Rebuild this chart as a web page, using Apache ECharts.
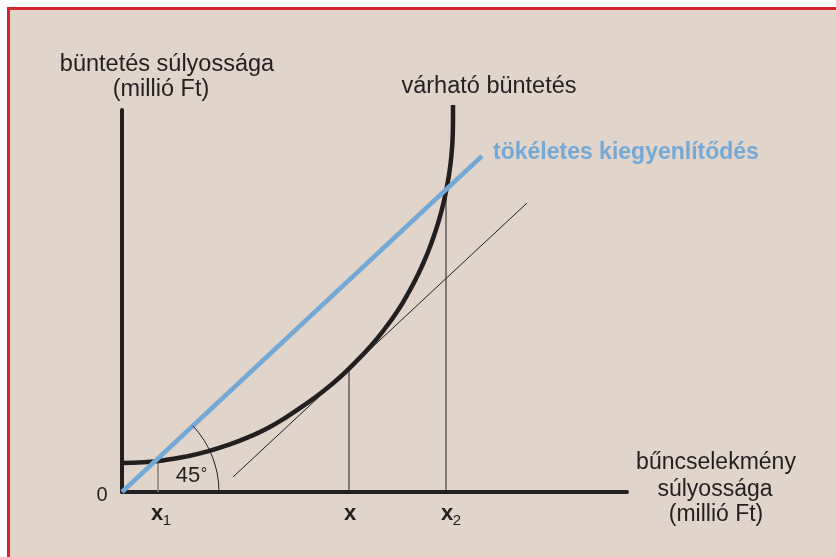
<!DOCTYPE html>
<html>
<head>
<meta charset="utf-8">
<title>várható büntetés</title>
<script src="https://cdn.jsdelivr.net/npm/echarts@6/dist/echarts.min.js"></script>
<style>
  html, body { margin: 0; padding: 0; background: #ffffff; }
  #frame {
    position: absolute; left: 7px; top: 7px; width: 829px; height: 550px;
    box-sizing: border-box;
    border-left: 3px solid #d7262f; border-top: 3px solid #d7262f;
    background: #e0d4cb;
  }
  #main { position: absolute; left: 0; top: 0; width: 836px; height: 557px; }
</style>
</head>
<body>
<div id="frame"></div>
<div id="main"></div>
<script>
// görbe: várható büntetés (x = bűncselekmény súlyossága, y = büntetés)
var curveX = [0, 21.6, 43.2, 64.6, 85.7, 106.4, 126.7, 146.4, 165.5, 183.9, 201.5, 218.2, 234,
  248.8, 262.6, 275.2, 286.6, 296.9, 305.8, 313.4, 319.7, 324.6, 328.2, 330.3, 331, 331];
var curveY = [29, 29.7, 31.9, 35.6, 40.6, 47.1, 55, 64.2, 75.7, 88, 101, 115, 130.4,
  146, 163, 180.5, 199.5, 219.2, 239.5, 260.4, 281.7, 303.5, 325.5, 347.7, 370, 387];

// tökéletes kiegyenlítődés (45 fokos egyenes)
var blueX = [0, 360];
var blueY = [0, 336];

// érintő az x pontban
var tangentX = [111, 405];
var tangentY = [15, 289];

// függőleges vonalak: x1, x, x2
var markX = [36, 227, 324];
var markTop = [31, 124, 302];

var axisMax = [505, 382];
var angleRadius = 97;

var ink = "#231f20";
var blue = "#74a9d6";
var font = "'Liberation Sans', Arial, Helvetica, sans-serif";

function zip(xs, ys) {
  var out = [];
  for (var i = 0; i < xs.length; i++) {
    out.push([xs[i], ys[i]]);
  }
  return out;
}

var chart = echarts.init(document.getElementById("main"));

var series = [
  {
    name: "várható büntetés",
    type: "line",
    data: zip(curveX, curveY),
    smooth: 0.5,
    showSymbol: false,
    symbol: "none",
    clip: false,
    lineStyle: { color: ink, width: 4.5 },
    z: 3
  },
  {
    name: "tökéletes kiegyenlítődés",
    type: "line",
    data: zip(blueX, blueY),
    symbol: "none",
    lineStyle: { color: blue, width: 4.5 },
    z: 4
  },
  {
    name: "érintő",
    type: "line",
    data: zip(tangentX, tangentY),
    symbol: "none",
    lineStyle: { color: ink, width: 1 },
    z: 2
  }
];

for (var i = 0; i < markX.length; i++) {
  series.push({
    type: "line",
    data: [[markX[i], 0], [markX[i], markTop[i]]],
    symbol: "none",
    lineStyle: { color: i === 0 ? "#85807c" : ink, width: i === 0 ? 1.5 : 1 },
    z: 1
  });
}

var hiddenAxis = {
  type: "value",
  min: 0,
  axisLine: { show: true, lineStyle: { color: ink, width: 4 } },
  axisTick: { show: false },
  axisLabel: { show: false },
  splitLine: { show: false }
};

chart.setOption({
  backgroundColor: "transparent",
  animation: false,
  grid: { left: 122, top: 110, width: 505, height: 382 },
  xAxis: Object.assign({}, hiddenAxis, { max: axisMax[0] }),
  yAxis: Object.assign({}, hiddenAxis, { max: axisMax[1] }),
  series: series
});

// szögjel és feliratok
var origin = chart.convertToPixel({ gridIndex: 0 }, [0, 0]);
var r = chart.convertToPixel({ gridIndex: 0 }, [angleRadius, 0])[0] - origin[0];
var angle = Math.atan2(blueY[1], blueX[1]);

function txt(x, y, text, size, opts) {
  opts = opts || {};
  return {
    type: "text",
    x: x,
    y: y,
    z: 10,
    style: {
      text: text,
      fill: opts.color || ink,
      font: (opts.bold ? "bold " : "") + size + "px " + font,
      textAlign: opts.align || "center",
      textVerticalAlign: "middle"
    }
  };
}

chart.setOption({
  graphic: [
    {
      type: "arc",
      z: 5,
      shape: { cx: origin[0], cy: origin[1], r: r, startAngle: -angle, endAngle: 0, clockwise: true },
      style: { stroke: ink, lineWidth: 1, fill: null }
    },
    txt(167, 65, "büntetés súlyossága", 23.5),
    txt(161, 90, "(millió Ft)", 23.5),
    txt(489, 87, "várható büntetés", 23.5),
    txt(493, 153, "tökéletes kiegyenlítődés", 23, { bold: true, color: blue, align: "left" }),
    txt(716, 463, "bűncselekmény", 23),
    txt(715, 490, "súlyossága", 23),
    txt(716, 515, "(millió Ft)", 23),
    txt(102, 495, "0", 20),
    txt(188, 476, "45", 22),
    txt(204, 475, "°", 16),
    txt(157, 514, "x", 22, { bold: true }),
    txt(167, 521, "1", 15),
    txt(350, 514, "x", 22, { bold: true }),
    txt(447, 514, "x", 22, { bold: true }),
    txt(457, 521, "2", 15)
  ]
});
</script>
</body>
</html>
